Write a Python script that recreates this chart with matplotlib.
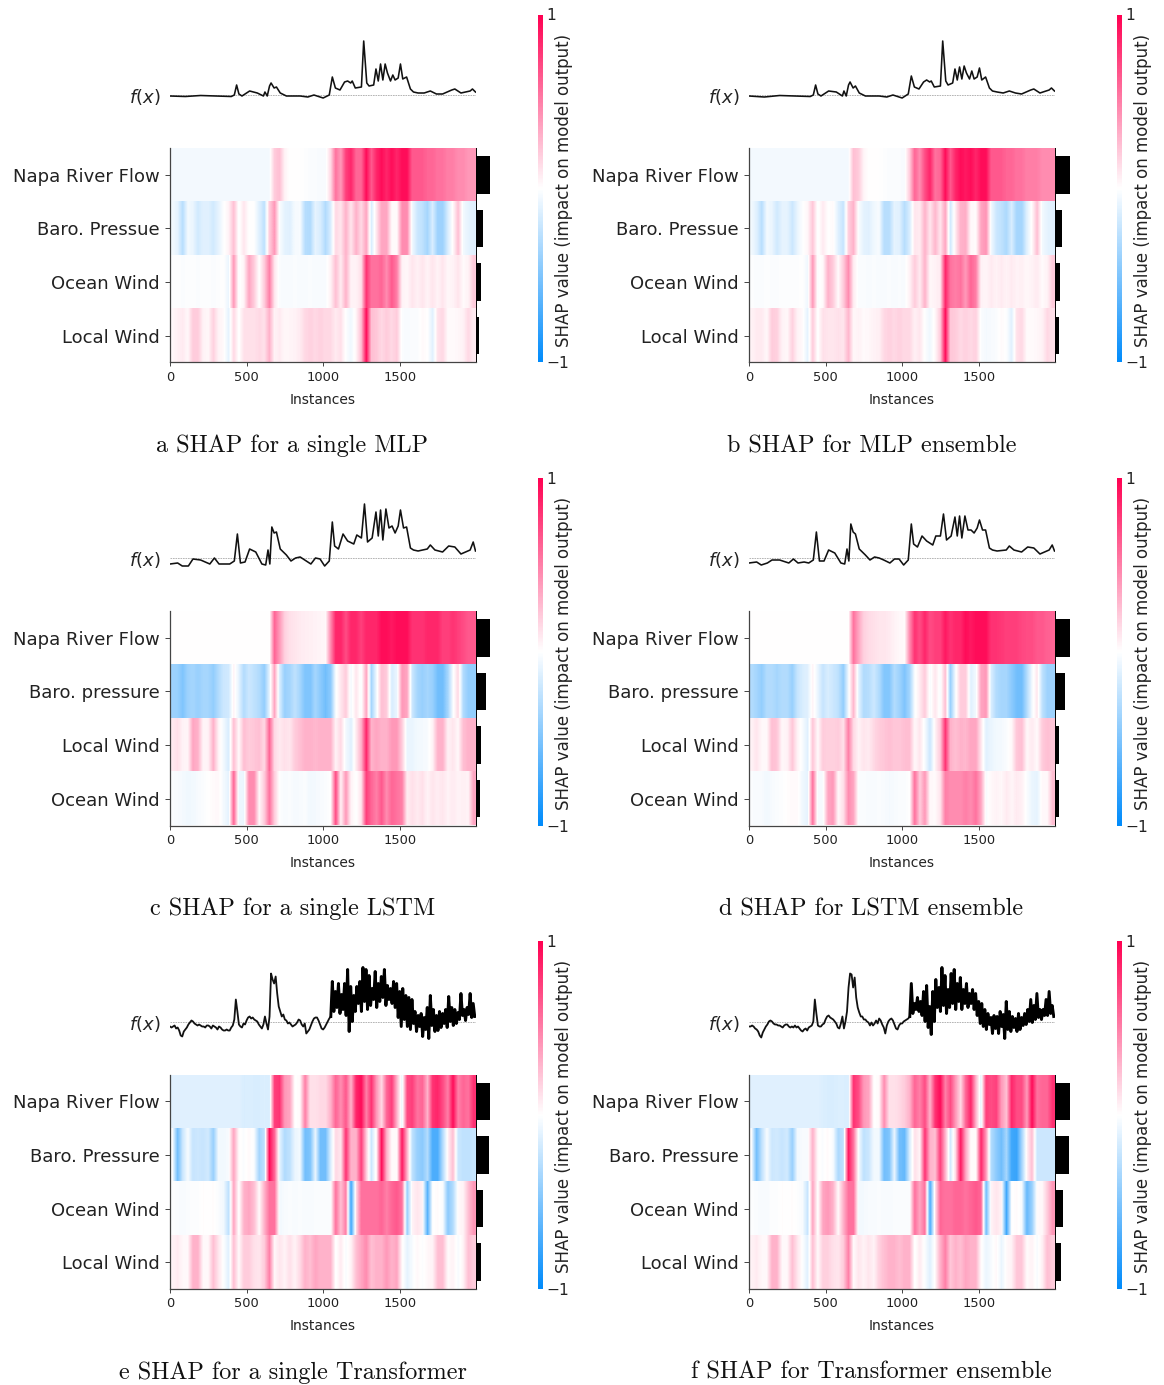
import numpy as np
import matplotlib
matplotlib.use('Agg')
import matplotlib.pyplot as plt
from matplotlib.colors import LinearSegmentedColormap, Normalize
from matplotlib.cm import ScalarMappable

W, H = 1164, 1385
X_END = 1995

captions = ['a SHAP for a single MLP', 'b SHAP for MLP ensemble',
            'c SHAP for a single LSTM', 'd SHAP for LSTM ensemble',
            'e SHAP for a single Transformer', 'f SHAP for Transformer ensemble']

labels_a = ['Napa River Flow', 'Baro. Pressue', 'Ocean Wind', 'Local Wind']
labels_c = ['Napa River Flow', 'Baro. pressure', 'Local Wind', 'Ocean Wind']
labels_e = ['Napa River Flow', 'Baro. Pressure', 'Ocean Wind', 'Local Wind']

# mean |SHAP| bars
bars_a = [14.5, 7, 5.2, 3.5]
bars_b = [15, 7.5, 5.2, 4.5]
bars_c = [14.5, 10, 5.2, 4]
bars_d = [15, 10.5, 4.5, 4.5]
bars_e = [14.5, 13.5, 7, 5.2]
bars_f = [15, 14, 8.5, 6]

# heat rows, 60 bins across the instances
a_napa = [-.04]*20 + [.2, .25, .05, 0, 0, 0, -.01, -.02, -.02, -.03, -.03, .15, .55, .4, .75, .85, .6, .6, .95, .65, .85, .95, .85, .95, .85, .95, .95, .65, .65, .65, .6, .6, .55, .55, .5, .5, .45, .45, .4, .4]
a_baro = [-.05, -.1, -.28, -.05, -.08, -.18, -.12, -.12, -.18, -.1, -.01, .05, .25, -.02, .1, 0, 0, -.12, -.25, .2, .4, -.02, -.1, -.12, -.04, -.03, -.28, -.3, -.1, -.15, -.3, -.15, .15, .1, .3, .1, .3, .15, .35, -.15, .1, .35, .35, .02, .02, .45, .45, -.05, -.2, -.25, -.35, -.15, -.38, -.38, -.15, .02, .25, -.05, -.1, -.12]
a_ocean = [-.01, -.01, -.02, -.01, -.01, -.02, -.01, -.01, -.02, -.01, 0, -.08, .4, -.02, .05, .35, .2, 0, .2, .5, .1, -.02, -.03, -.03, -.02, -.03, -.03, -.02, -.03, -.03, -.03, .05, .25, .08, .3, .05, .05, .12, .8, .55, .55, .6, .45, .65, .5, .05, .03, .1, .06, .1, .05, .1, .05, .1, .03, .05, .1, .02, .05, .2]
a_local = [.03, .06, .08, .03, .2, .2, .05, .03, .18, .05, .02, -.1, .15, -.01, .12, .12, .12, .15, .12, .3, .05, .08, .03, .04, .05, .08, .15, .18, .15, .18, .15, .15, .08, .12, -.01, -.06, .04, .25, .95, .25, .22, .15, .2, .15, .2, -.02, -.03, -.02, -.02, .02, 0, -.12, .12, .15, .02, .02, .03, .05, .15, .08]

b_napa = [-.04]*20 + [.25, .2, .04, 0, 0, 0, -.01, -.02, -.02, -.02, -.03, .2, .6, .45, .7, .85, .55, .6, .95, .65, .85, .95, .9, .95, .85, .95, .95, .65, .65, .65, .6, .6, .55, .55, .5, .5, .5, .45, .45, .45]
b_baro = [-.05, -.12, -.28, -.05, -.08, -.18, -.1, -.1, -.2, -.08, -.01, .04, .22, -.02, .08, 0, .02, -.12, -.22, .18, .3, -.02, -.1, -.12, -.06, -.03, -.28, -.28, -.1, -.12, -.28, -.15, .1, .08, .3, .1, .28, .1, .35, -.18, .08, .3, .32, .03, .02, .35, .42, -.05, -.2, -.25, -.32, -.15, -.35, -.35, -.12, .02, .25, -.05, -.1, -.12]
b_ocean = [-.01, -.02, -.02, -.01, -.02, -.02, -.01, -.01, -.01, -.01, 0, -.06, .4, -.02, .02, .3, .2, .02, .2, .45, .08, -.02, -.02, -.03, -.02, -.03, -.03, -.02, -.03, -.02, -.03, .05, .2, .08, .3, .03, .05, .08, .85, .55, .5, .55, .4, .6, .5, .05, .04, .08, .05, .08, .05, .08, .05, .06, .03, .05, .08, .02, .05, .2]
b_local = [.05, .08, .08, .03, .2, .18, .05, .03, .18, .05, .02, -.1, .2, -.01, .12, .1, .1, .12, .1, .28, .03, .05, .02, .03, .05, .06, .15, .18, .15, .18, .15, .15, .06, .1, -.01, -.06, .03, .2, .95, .22, .2, .15, .18, .15, .18, -.02, -.04, -.03, -.02, .02, -.01, -.12, .12, .15, .02, .02, .03, .05, .15, .12]

c_napa = [0]*20 + [.6, .4, .18, .12, .1, .08, .07, .06, .05, .04, .03, .45, .85, .85, .7, .85, .85, .75, .85, .85, .85, .95, .95, .9, .95, .95, .95, .8, .8, .8, .85, .85, .85, .75, .75, .8, .75, .7, .65, .65]
c_baro = [-.38, -.4, -.5, -.38, -.35, -.4, -.35, -.35, -.42, -.3, -.2, -.18, .05, -.1, -.3, -.2, -.25, -.3, -.42, -.1, .35, -.15, -.4, -.35, -.25, -.35, -.5, -.5, -.35, -.45, -.55, -.45, -.02, .1, .2, -.05, .1, -.03, .35, -.35, -.05, .25, .2, -.15, -.08, .4, .35, -.2, -.35, -.4, -.35, -.4, -.55, -.55, -.35, -.02, .15, -.3, -.42, -.42]
c_local = [.08, .12, .05, .04, .35, .3, .04, .05, .3, .05, -.05, -.15, .25, .02, .25, .2, .22, .25, .15, .6, .15, .08, .12, .1, .2, .25, .3, .3, .28, .3, .3, .3, .05, .15, -.05, -.12, .08, .3, .85, .3, .35, .3, .3, .4, .4, .2, -.08, -.08, -.05, -.04, -.03, .05, .3, .3, .05, .1, .03, .25, .3, .3]
c_ocean = [-.02, -.03, -.04, -.06, -.05, -.03, -.02, 0, .02, .03, -.04, -.1, .6, -.07, -.08, .45, .45, .03, .2, .55, .2, -.01, -.03, -.02, -.04, -.03, -.02, -.05, -.04, -.03, -.02, 0, .7, .05, .4, .05, -.01, .1, .75, .6, .5, .65, .45, .6, .55, .5, .07, .12, .08, .12, .05, .1, .07, .1, .05, .08, .05, .06, .05, .35]

d_napa = [0]*20 + [.55, .35, .18, .14, .12, .1, .1, .08, .05, .03, .02, .45, .8, .7, .85, .7, .75, .75, .9, .8, .85, .85, .95, .9, .95, .95, .95, .8, .8, .78, .75, .75, .75, .72, .7, .7, .65, .65, .62, .6]
d_baro = [-.3, -.35, -.42, -.3, -.3, -.35, -.3, -.3, -.4, -.22, -.15, -.12, .05, -.08, -.22, -.15, -.2, -.25, -.42, -.05, .28, -.1, -.3, -.28, -.2, -.3, -.48, -.48, -.3, -.38, -.5, -.35, -.02, .08, .2, -.03, .1, -.03, .25, -.4, -.03, .2, .2, -.12, -.05, .35, .4, -.15, -.3, -.35, -.35, -.45, -.55, -.55, -.3, -.05, .1, -.25, -.38, -.38]
d_local = [.05, .1, .03, .03, .25, .22, .03, .05, .22, .05, -.03, -.12, .22, .02, .2, .18, .18, .2, .12, .5, .15, .05, .1, .08, .15, .2, .22, .25, .22, .22, .25, .25, .03, .1, -.03, -.2, .05, .2, .8, .3, .25, .3, .28, .35, .35, .1, -.12, -.08, -.05, -.04, -.02, .03, .22, .25, .03, .08, .02, .2, .25, .22]
d_ocean = [-.02, -.03, -.03, -.05, -.03, -.02, -.01, .01, .02, .02, -.06, -.1, .55, -.04, -.03, .35, .4, .03, .12, .45, .35, -.02, -.02, -.03, -.03, -.02, -.03, -.04, -.03, -.02, -.02, 0, .55, .2, .4, .03, .02, .1, .5, .45, .45, .45, .5, .45, .55, .35, -.03, .03, .05, .03, .08, .04, .08, .06, -.02, -.08, -.1, .03, .03, .25]

e_napa = [-.12]*14 + [-.15, -.14, -.15, -.15, -.14, -.15] + [.75, .8, .4, .35, 0, .02, .5, .12, .12, .15, .15, .3, .6, .45, .65, .3, .85, .95, .5, .8, .4, .15, .6, .75, .3, -.1, .7, .75, .55, .6, .3, .8, .85, .7, .5, .95, .5, .6, .55, .8]
e_baro = [-.02, -.55, -.2, -.03, -.22, -.2, -.22, -.18, -.4, -.05, -.05, -.03, .35, .02, -.02, .02, -.02, -.35, -.25, .95, .6, -.1, -.3, -.25, -.08, -.05, -.55, -.5, -.08, -.55, -.55, -.15, .15, .1, .8, .3, .3, .75, .2, -.2, .05, .95, .3, .02, .02, .9, .3, -.25, -.4, -.45, -.3, -.7, -.7, -.3, .05, .25, -.2, -.25, -.25, -.22]
e_ocean = [-.01, -.02, -.03, -.02, -.01, -.01, .01, 0, .01, -.02, -.05, -.25, .35, -.01, .3, .35, .25, .02, .3, .55, .55, -.05, -.03, -.02, -.03, -.02, -.03, -.03, -.02, -.02, -.02, -.02, .55, .25, .5, -.75, .15, .55, .55, .55, .55, .6, .5, .6, .65, .55, -.4, .05, .1, .05, -.65, 0, .02, -.02, -.45, -.3, .02, .05, .25, .4]
e_local = [.05, .08, .03, .03, .3, .3, .03, .03, .25, .1, -.01, -.12, .25, .02, .2, .2, .12, .1, .2, .5, .03, .1, .05, .12, .05, .15, .3, .25, .35, .3, .3, .3, -.01, .08, -.03, .05, .25, .35, .45, .25, .3, .3, .4, .3, .35, .02, -.1, -.03, .03, -.01, .03, .05, .25, .25, .02, .05, -.03, .05, .25, .2]

f_napa = [-.12]*14 + [-.14, -.15, -.15, -.14, -.14, -.15] + [.8, .7, .4, .35, 0, .02, .45, .12, .12, .15, .2, .3, .6, .5, .7, .3, .8, .95, .5, .7, .4, .15, .6, .85, .3, -.12, .75, .7, .75, .4, .25, .85, .7, .7, .4, .95, .55, .6, .6, .8]
f_baro = [-.02, -.55, -.25, -.03, -.2, -.18, -.22, -.18, -.4, -.05, -.03, -.03, .3, .02, -.02, .02, -.03, -.32, -.25, .9, .55, -.03, -.25, -.2, -.05, -.05, -.55, -.5, -.08, -.55, -.6, -.15, .12, .05, .8, .3, .25, .75, .3, -.18, .15, .9, .35, .02, .02, .85, .4, -.3, -.45, -.55, -.35, -.75, -.78, -.35, .05, .25, -.2, -.2, -.2, -.2]
f_ocean = [-.01, -.02, -.03, -.03, -.01, -.01, .01, 0, .01, -.01, -.03, -.22, .35, -.01, .35, .4, .3, .02, .3, .55, .55, -.05, -.04, -.03, -.03, -.02, -.03, -.03, -.02, -.02, -.02, -.02, .55, .35, .55, -.7, .1, .6, .55, .55, .6, .6, .55, .6, .65, .6, -.55, .05, .1, .05, -.75, 0, .02, -.03, -.6, -.4, .02, .03, .2, .4]
f_local = [.05, .08, .03, .03, .3, .3, .03, .03, .25, .1, -.01, -.12, .25, .02, .18, .18, .12, .1, .2, .5, .02, .1, .05, .1, .05, .18, .25, .3, .3, .25, .3, .3, -.01, .08, -.02, -.12, .02, .3, .5, .22, .3, .25, .35, .3, .3, .02, -.08, -.03, .03, -.08, .02, .05, .22, .22, .02, .05, -.03, .06, .25, .2]

# f(x) lines, height above the dotted baseline
a_x = [0, 100, 200, 300, 400, 420, 435, 450, 470, 520, 570, 610, 620, 635, 650, 660, 680, 695, 720, 760, 850, 900, 940, 1000, 1040, 1060, 1080, 1110, 1140, 1160, 1180, 1190, 1210, 1250, 1265, 1285, 1300, 1330, 1345, 1360, 1375, 1390, 1405, 1420, 1440, 1455, 1470, 1490, 1505, 1520, 1545, 1570, 1590, 1620, 1660, 1700, 1740, 1780, 1840, 1860, 1900, 1960, 1975, 1995]
a_y = [-1, -1.5, -.5, -1, -1.5, 0, 10, 1, -1, 4, 2, -1, 3, -1, 9, 12, 7, 8, 2, -1, -1, -2, 0, -3, 0, 18, 7, 5, 13, 14, 12, 14, 7, 8, 54, 12, 9, 10, 26, 14, 31, 15, 31, 22, 14, 20, 15, 17, 31, 16, 18, 6, 3, 2, 2, 4, 1, 1, 5, 6, 2, 4, 6, 3]
b_y = [-1, -2, -.5, -1, -1.5, 0, 10, 1, -1, 4, 3, -1, 4, -1, 10, 13, 7, 9, 2, -1, -1, -2, 0, -3, 1, 19, 8, 6, 13, 15, 13, 14, 8, 9, 54, 14, 10, 12, 26, 15, 28, 16, 29, 22, 16, 24, 16, 18, 27, 15, 18, 7, 4, 3, 2, 4, 2, 1, 5, 6, 2, 5, 7, 4]

c_x = [0, 50, 80, 120, 150, 200, 260, 290, 320, 360, 390, 420, 440, 460, 490, 520, 560, 600, 625, 640, 652, 665, 680, 695, 720, 760, 790, 820, 850, 880, 920, 950, 980, 1010, 1040, 1060, 1075, 1100, 1130, 1160, 1200, 1220, 1250, 1270, 1290, 1320, 1345, 1360, 1375, 1390, 1410, 1430, 1450, 1470, 1490, 1505, 1525, 1545, 1570, 1590, 1620, 1680, 1700, 1730, 1780, 1820, 1860, 1900, 1960, 1980, 1995]
c_y = [-6, -5, -8, -8, -1, -2, -6, 0, -6, -6, -6, -3, 24, -5, -4, 9, 6, -6, -7, 8, -6, 31, 25, 26, 9, 3, -3, 0, 1, -2, -6, 0, -1, -8, -3, 36, 12, 9, 24, 17, 14, 23, 20, 54, 16, 20, 46, 22, 48, 18, 49, 30, 32, 25, 32, 48, 30, 31, 10, 8, 7, 9, 13, 8, 6, 12, 11, 4, 8, 16, 7]
d_y = [-5, -4, -7, -5, -2, -2, -5, -1, -5, -4, -5, -2, 26, -3, -3, 8, 5, -5, -6, 9, -3, 34, 26, 24, 9, 3, -2, 1, 0, -2, -5, -1, -1, -7, -2, 34, 14, 11, 22, 17, 13, 22, 22, 44, 18, 22, 41, 22, 42, 20, 42, 28, 28, 25, 30, 38, 28, 28, 10, 8, 7, 8, 12, 8, 6, 11, 10, 4, 8, 13, 7]

# transformers: quiet part every 10 instances, then a noisy band (top and bottom every 20)
QUIET_STEP = 10
BAND_START = 1060
BAND_STEP = 20
e_quiet = [-5, -6, -5, -4, -7, -6, -9, -14, -15, -10, -8, -6, -3, -1, 1, 0, -2, -3, -4, -3,
           -4, -5, -5, -6, -4, -4, -5, -7, -4, -5, -6, -8, -5, -6, -8, -9, -9, -8, -9, -9,
           -6, -4, 2, 22, 10, -3, -5, -6, -2, -3, 1, 4, 5, 3, 4, 2, 1, 0, -3, -5,
           -7, -3, 5, -2, -8, 5, 48, 42, 38, 45, 28, 15, 10, 5, 7, 2, 1, -2, -1, -3,
           -5, -4, -3, -1, 2, 1, -3, -5, -2, -12, -10, -8, -4, 0, 3, 4, 4, 1, -3, -7,
           -8, -6, -3, 0, 3, 5]
e_hi = [40, 30, 38, 27, 38, 52, 35, 26, 35, 40, 54, 52, 46, 33, 50, 38, 45, 52, 36, 33, 40, 38, 30, 33, 26, 24, 22, 10, 6, 8, 4, 14, 26, 12, 6, 10, 8, 12, 25, 14, 12, 9, 28, 12, 14, 28, 18]
e_lo = [10, 14, 8, 12, 6, -10, 0, 10, 18, 10, 20, 12, 16, 22, 14, 20, 24, 16, 22, 18, 14, 4, -5, 2, -5, -8, -2, -10, -5, -15, -8, -17, -4, -10, -9, -6, -2, -6, 0, -4, -2, 2, 6, 1, 7, 4, 5]
f_quiet = [-5, -5, -4, -5, -7, -8, -10, -14, -16, -11, -8, -5, -3, 0, 1, 0, -2, -3, -3, -4,
           -4, -5, -6, -4, -3, -3, -5, -6, -5, -6, -4, -6, -5, -7, -9, -10, -8, -7, -9, -6,
           -5, -4, 0, 22, 8, -4, -5, -5, -3, -2, 2, 5, 6, 4, 3, 2, 0, -2, -6, -7,
           -2, 5, -7, 0, 10, 34, 48, 47, 34, 44, 24, 14, 9, 5, 5, 2, 2, 0, -1, -4,
           -1, -4, -2, 1, -2, 3, 1, -3, -6, -12, -4, 0, 2, 3, 1, -3, -7, -8, -4, -2,
           -2, 0, 1, 2, 3, 5]
f_hi = [38, 18, 24, 20, 30, 36, 15, 30, 42, 34, 54, 46, 32, 48, 52, 38, 44, 32, 38, 28, 32, 28, 20, 18, 12, 8, 4, 6, 5, 10, 7, 20, 10, 5, 3, 8, 4, 8, 12, 22, 16, 28, 12, 12, 22, 30, 16]
f_lo = [8, 12, 10, 6, 0, -6, -13, 0, 14, 10, 16, 8, 14, 18, 12, 20, 12, 18, 14, 18, 12, 6, -2, -5, -8, -3, -12, -7, -12, -5, -17, -8, -10, -6, -10, -8, -4, -3, 0, -1, 2, 4, 2, 6, 6, 8, 5]

panels = [
    (captions[0], labels_a, [a_napa, a_baro, a_ocean, a_local], bars_a, a_x, a_y, None),
    (captions[1], labels_a, [b_napa, b_baro, b_ocean, b_local], bars_b, a_x, b_y, None),
    (captions[2], labels_c, [c_napa, c_baro, c_local, c_ocean], bars_c, c_x, c_y, None),
    (captions[3], labels_c, [d_napa, d_baro, d_local, d_ocean], bars_d, c_x, d_y, None),
    (captions[4], labels_e, [e_napa, e_baro, e_ocean, e_local], bars_e, None, e_quiet, (e_hi, e_lo)),
    (captions[5], labels_e, [f_napa, f_baro, f_ocean, f_local], bars_f, None, f_quiet, (f_hi, f_lo)),
]

cmap = LinearSegmentedColormap.from_list('red_white_blue', ['#008bfb', '#ffffff', '#ff0051'])
TICK_COLOR = '#444444'
TEXT_COLOR = '#222222'


def ax_px(fig, x0, y0, x1, y1):
    # box in image pixels, y going down
    return fig.add_axes([x0 / W, 1 - y1 / H, (x1 - x0) / W, (y1 - y0) / H])


fig = plt.figure(figsize=(W / 100, H / 100), dpi=100)

col_x = [170, 749]
row_y = [148, 611, 1074.5]

for i, (cap, labels, rows, bars, fx_x, fx_y, band) in enumerate(panels):
    x0 = col_x[i % 2]
    x1 = x0 + 305.5
    top = row_y[i // 2]
    bottom = top + 214.5

    # heat map, one image per row so the rows do not bleed into each other
    ax = ax_px(fig, x0, top, x1, bottom)
    for r, row in enumerate(rows):
        ax.imshow(np.array([row]), aspect='auto', cmap=cmap, vmin=-1, vmax=1,
                  extent=[0, X_END, r + 1, r], interpolation='bilinear')
    ax.set_xlim(0, X_END)
    ax.set_ylim(4, 0)
    ax.set_yticks([0.5, 1.5, 2.5, 3.5])
    ax.set_yticklabels(labels, fontsize=13, color=TEXT_COLOR)
    ax.set_xticks([0, 500, 1000, 1500])
    ax.tick_params(axis='x', labelsize=9.4, length=3, width=.7, color=TICK_COLOR,
                   labelcolor=TEXT_COLOR, pad=3)
    ax.tick_params(axis='y', length=3.5, width=.7, color=TICK_COLOR, pad=4)
    ax.set_xlabel('Instances', fontsize=10, color=TEXT_COLOR, labelpad=6.5)
    ax.spines['top'].set_visible(False)
    ax.spines['right'].set_visible(False)
    for s in ['left', 'bottom']:
        ax.spines[s].set_linewidth(.9)
        ax.spines[s].set_color(TICK_COLOR)

    # importance bars
    bx = ax_px(fig, x1, top, x1 + 16, bottom)
    bx.barh([0.5, 1.5, 2.5, 3.5], bars, height=.7, color='black')
    bx.set_xlim(0, 16)
    bx.set_ylim(4, 0)
    bx.axis('off')
    bx.axvline(0, color='black', lw=1.4)

    # f(x) line
    tx = ax_px(fig, x0, top - 53 - 85, x1, top - 53 + 25)
    tx.axhline(0, color='#aaaaaa', lw=.6, ls=(0, (2, 1)))
    if band is None:
        tx.plot(fx_x, fx_y, color='#111111', lw=1.15, solid_joinstyle='round')
    else:
        xs = np.arange(len(fx_y)) * QUIET_STEP
        tx.plot(xs, fx_y, color='#111111', lw=1.3, solid_joinstyle='round')
        # zigzag between the band's top and bottom readings
        bxs = BAND_START + np.arange(len(band[0])) * BAND_STEP
        zx = np.column_stack([bxs, bxs + BAND_STEP / 2]).ravel()
        zy = np.column_stack([band[0], band[1]]).ravel()
        tx.plot(np.r_[xs[-1], zx], np.r_[fx_y[-1], zy], color='black', lw=2.1)
    tx.set_xlim(0, X_END)
    tx.set_ylim(-25, 85)
    tx.axis('off')
    fig.text((x0 - 10) / W, 1 - (top - 51) / H, '$f(x)$', ha='right', va='center',
             fontsize=13, color=TEXT_COLOR, math_fontfamily='dejavusans')

    # colour bar
    cx0 = x0 + 368
    cax = ax_px(fig, cx0, top - 133.5, cx0 + 4.5, bottom)
    sm = ScalarMappable(norm=Normalize(-1, 1), cmap=cmap)
    cb = fig.colorbar(sm, cax=cax, ticks=[-1, 1])
    cb.outline.set_visible(False)
    cb.ax.set_yticklabels(['\u22121', '1'], fontsize=11.2, color=TEXT_COLOR)
    cb.ax.tick_params(length=0, pad=3)
    fig.text((cx0 + 26) / W, 1 - (top - 133.5 + bottom + 3) / 2 / H,
             'SHAP value (impact on model output)', rotation=90, ha='center', va='center',
             fontsize=12, color=TEXT_COLOR)

    # caption under the panel
    fig.text((x0 + 122.5) / W, 1 - (bottom + 83.5) / H, cap, ha='center', va='center',
             fontsize=17.4, family='cmr10', color='#111111')

plt.savefig('out.png', dpi=100)
plt.close(fig)
